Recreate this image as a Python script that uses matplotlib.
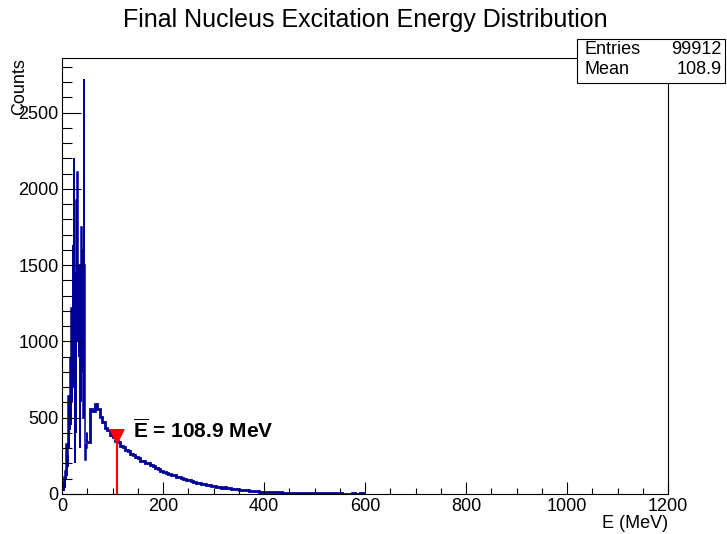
import numpy as np
import matplotlib
matplotlib.use('Agg')
import matplotlib.pyplot as plt
from matplotlib.patches import Rectangle

# Data (counts per bin)
# 1 MeV bins, 0 - 50 MeV (spiky low-energy region)
low_edges = list(range(0, 51))
low_counts = [60, 30, 80, 20, 110, 40, 150, 90, 330, 120,
              250, 180, 640, 300, 500, 420, 890, 450, 1220, 600,
              900, 1630, 700, 2200, 1100, 200, 1450, 400, 1930, 1000,
              2110, 2110, 1300, 900, 1500, 300, 1400, 600, 1750, 800,
              1600, 1400, 500, 2723, 1500, 310, 220, 330, 300, 400]

# 5 MeV bins, 50 - 600 MeV (broad component)
high_edges = list(range(50, 605, 5))
high_counts = [340, 560, 545, 590, 560, 505, 470, 430, 418, 385,
               372, 350, 342, 318, 310, 286, 279, 262, 258, 240,
               236, 218, 215, 202, 200, 187, 182, 168, 163, 148,
               146, 136, 134, 125, 123, 113, 111, 102, 101, 92,
               91, 82, 80, 74, 72, 66, 66, 60, 58, 53,
               52, 47, 46, 42, 43, 38, 37, 33, 35, 30,
               28, 26, 25, 23, 22, 20, 19, 17, 16, 15,
               14, 13, 12, 12, 11, 10, 10, 9, 9, 8,
               8, 8, 7, 7, 7, 6, 7, 6, 6, 5,
               6, 5, 5, 4, 5, 4, 5, 4, 4, 3,
               4, 3, 3, 0, 3, 4, 0, 3, 4, 4]

entries = 99912
mean_e = 108.9
x_range = (0, 1200)
y_max = 2859

plt.rcParams['font.family'] = ['Liberation Sans', 'DejaVu Sans']
plt.rcParams['mathtext.fontset'] = 'custom'
plt.rcParams['mathtext.rm'] = 'Liberation Sans'
plt.rcParams['mathtext.bf'] = 'Liberation Sans:bold'

fig = plt.figure(figsize=(7.27, 5.34), dpi=100)
ax = fig.add_axes([62 / 727, 1 - 494 / 534, 606 / 727, 436 / 534])

# histogram: spiky part thin, noisy broad part drawn a bit thicker
ax.stairs(low_counts, low_edges, color='#000099', lw=1.1, baseline=None)
ax.stairs(high_counts, high_edges, color='#000099', lw=2.0, baseline=None)
ax.plot([low_edges[-1], low_edges[-1]], [low_counts[-1], high_counts[0]],
        color='#000099', lw=1.1)

# mean marker
ax.plot([mean_e, mean_e], [0, 370], color='#ff0000', lw=1.6, solid_capstyle='butt')
ax.plot([mean_e], [375], marker='v', color='#ff0000', markersize=12, markeredgewidth=0)
ax.text(140, 420, r'$\mathbf{\overline{E}}$ = %.1f MeV' % mean_e, fontsize=15,
        fontweight='bold', va='center', ha='left')

ax.set_xlim(*x_range)
ax.set_ylim(0, y_max)
ax.set_xticks(np.arange(0, 1201, 200))
ax.set_xticks(np.arange(0, 1201, 50), minor=True)
ax.set_yticks(np.arange(0, 2501, 500))
ax.set_yticks(np.arange(0, 2801, 100), minor=True)
ax.tick_params(axis='both', which='both', direction='in', top=False, right=False,
               width=0.8, labelsize=13)
ax.tick_params(axis='x', which='major', length=9, pad=3)
ax.tick_params(axis='x', which='minor', length=4.3)
ax.tick_params(axis='y', which='major', length=13.7, pad=2.5)
ax.tick_params(axis='y', which='minor', length=7.2)
for sp in ax.spines.values():
    sp.set_linewidth(0.8)

# titles
fig.text(365 / 727, 1 - 20 / 534, 'Final Nucleus Excitation Energy Distribution',
         ha='center', va='center', fontsize=18)
fig.text(668 / 727, 1 - 523 / 534, 'E (MeV)', ha='right', va='center', fontsize=13)
fig.text(20 / 727, 1 - 58 / 534, 'Counts', ha='center', va='top', rotation=90, fontsize=13)

# stats box
fig.add_artist(Rectangle((577 / 727, 1 - 83 / 534), 148 / 727, 44 / 534,
                         transform=fig.transFigure, facecolor='white',
                         edgecolor='black', lw=0.8, zorder=5))
fig.text(584 / 727, 1 - 50 / 534, 'Entries', ha='left', va='center', fontsize=13, zorder=6)
fig.text(722 / 727, 1 - 50 / 534, str(entries), ha='right', va='center', fontsize=13, zorder=6)
fig.text(584 / 727, 1 - 69 / 534, 'Mean', ha='left', va='center', fontsize=13, zorder=6)
fig.text(722 / 727, 1 - 69 / 534, '%.1f' % mean_e, ha='right', va='center', fontsize=13, zorder=6)

fig.savefig('out.png', dpi=100)
